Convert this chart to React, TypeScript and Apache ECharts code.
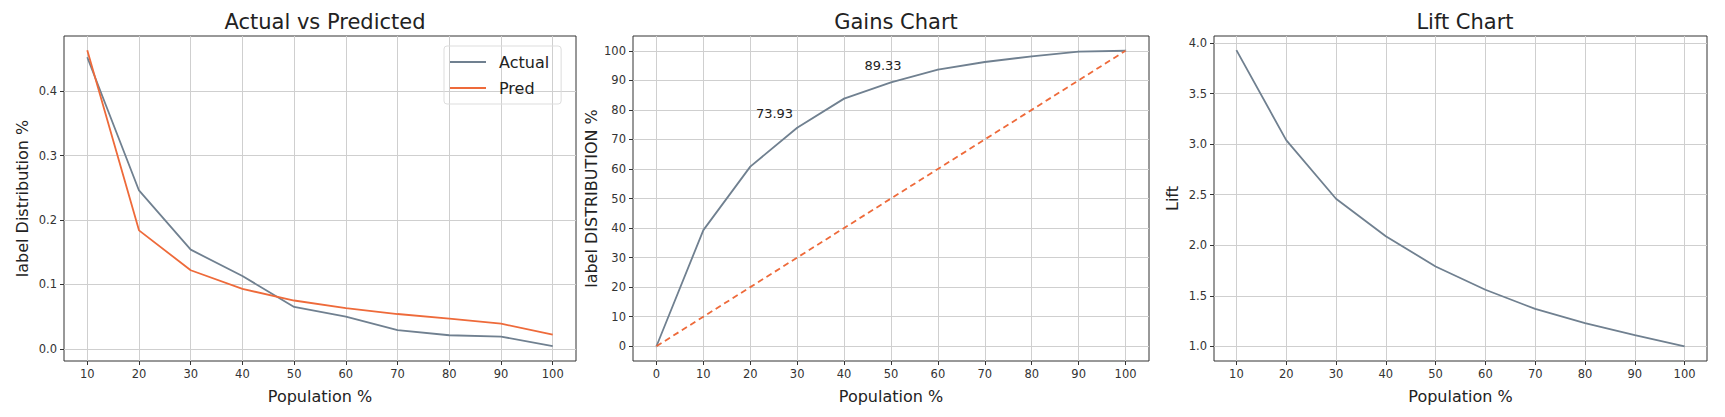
import React, { useEffect, useRef } from "react";
import * as echarts from "echarts";

const population = [10, 20, 30, 40, 50, 60, 70, 80, 90, 100];
const actual = [0.453, 0.246, 0.154, 0.113, 0.065, 0.05, 0.029, 0.021, 0.019, 0.004];
const pred = [0.464, 0.184, 0.122, 0.093, 0.075, 0.063, 0.054, 0.047, 0.039, 0.022];
const gainsX = [0, 10, 20, 30, 40, 50, 60, 70, 80, 90, 100];
const gains = [0, 39.3, 60.8, 73.93, 83.8, 89.33, 93.6, 96.2, 98.1, 99.7, 100];
const baseline = [0, 10, 20, 30, 40, 50, 60, 70, 80, 90, 100];
const lift = [3.93, 3.04, 2.46, 2.09, 1.79, 1.56, 1.37, 1.23, 1.11, 1.0];
const ticks1 = [0, 0.1, 0.2, 0.3, 0.4];
const ticks2 = [0, 10, 20, 30, 40, 50, 60, 70, 80, 90, 100];
const ticks3 = [1.0, 1.5, 2.0, 2.5, 3.0, 3.5, 4.0];

const FONT = "DejaVu Sans";
const GRAY = "#708090";
const ORANGE = "#ee6a3a";

const grids = [
  { left: 56, width: 512 },
  { left: 625, width: 516 },
  { left: 1206, width: 493 },
];

const xAxisBase = (i: number, min: number, max: number, vals: number[]) => ({
  type: "value",
  gridIndex: i,
  min,
  max,
  name: "Population %",
  nameLocation: "middle",
  nameGap: 27,
  nameTextStyle: { fontFamily: FONT, fontSize: 16, color: "#222" },
  axisLine: { show: false, onZero: false },
  axisTick: { show: true, customValues: vals, length: 4, lineStyle: { color: "#333" } },
  axisLabel: { customValues: vals, fontFamily: FONT, fontSize: 11.5, color: "#333", margin: 7 },
  splitLine: { show: true, lineStyle: { color: "#cfcfcf", width: 1 } },
});

const yAxisBase = (i: number, min: number, max: number, vals: number[], name: string, gap: number, fmt: (v: number) => string) => ({
  type: "value",
  gridIndex: i,
  min,
  max,
  name,
  nameLocation: "middle",
  nameGap: gap,
  nameTextStyle: { fontFamily: FONT, fontSize: 16, color: "#222" },
  axisLine: { show: false, onZero: false },
  axisTick: { show: true, customValues: vals, length: 4, lineStyle: { color: "#333" } },
  axisLabel: { customValues: vals, formatter: fmt, fontFamily: FONT, fontSize: 11.5, color: "#333", margin: 7 },
  splitLine: { show: true, lineStyle: { color: "#cfcfcf", width: 1 } },
});

const App: React.FC = () => {
  const ref = useRef<HTMLDivElement>(null);

  useEffect(() => {
    if (!ref.current) return;
    const chart = echarts.init(ref.current, null, { renderer: "svg" });
    const option = {
      animation: false,
      backgroundColor: "#fff",
      title: [
        { text: "Actual vs Predicted", left: 312, top: -2 },
        { text: "Gains Chart", left: 883, top: -2 },
        { text: "Lift Chart", left: 1452, top: -2 },
      ].map((t) => ({
        ...t,
        textAlign: "center",
        textStyle: { fontFamily: FONT, fontSize: 21, fontWeight: "normal", color: "#222" },
      })),
      legend: {
        data: ["Actual", "Pred"],
        orient: "vertical",
        left: 436,
        top: 38,
        padding: [8, 12, 8, 6],
        itemGap: 10,
        itemWidth: 36,
        itemHeight: 2,
        icon: "rect",
        borderColor: "#ddd",
        borderWidth: 1,
        borderRadius: 3,
        textStyle: { fontFamily: FONT, fontSize: 16, color: "#222", padding: [0, 0, 0, 8] },
      },
      grid: grids.map((g) => ({
        ...g,
        top: 28,
        height: 341,
        show: true,
        borderColor: "#333",
        borderWidth: 1,
      })),
      xAxis: [
        xAxisBase(0, 5.5, 104.5, population),
        xAxisBase(1, -5, 105, ticks2),
        xAxisBase(2, 5.5, 104.5, population),
      ],
      yAxis: [
        yAxisBase(0, -0.019, 0.486, ticks1, "label Distribution %", 34, (v) => v.toFixed(1)),
        yAxisBase(1, -5, 105, ticks2, "label DISTRIBUTION %", 34, (v) => String(v)),
        yAxisBase(2, 0.855, 4.07, ticks3, "Lift", 34, (v) => v.toFixed(1)),
      ],
      series: [
        {
          name: "Actual",
          type: "line",
          xAxisIndex: 0,
          yAxisIndex: 0,
          data: population.map((x, i) => [x, actual[i]]),
          showSymbol: false,
          lineStyle: { color: GRAY, width: 1.8 },
          itemStyle: { color: GRAY },
        },
        {
          name: "Pred",
          type: "line",
          xAxisIndex: 0,
          yAxisIndex: 0,
          data: population.map((x, i) => [x, pred[i]]),
          showSymbol: false,
          lineStyle: { color: ORANGE, width: 1.8 },
          itemStyle: { color: ORANGE },
        },
        {
          name: "Gains",
          type: "line",
          xAxisIndex: 1,
          yAxisIndex: 1,
          data: gainsX.map((x, i) => {
            const item: any = { value: [x, gains[i]] };
            if (x === 30) {
              item.label = { show: true, position: "left", offset: [2, -14], formatter: "73.93" };
            }
            if (x === 50) {
              item.label = { show: true, position: "top", offset: [-8, -4], formatter: "89.33" };
            }
            return item;
          }),
          showSymbol: true,
          symbolSize: 0.1,
          itemStyle: { color: GRAY },
          label: { show: false, fontFamily: FONT, fontSize: 13, color: "#222" },
          lineStyle: { color: GRAY, width: 1.8 },
          z: 3,
        },
        {
          name: "Random",
          type: "line",
          xAxisIndex: 1,
          yAxisIndex: 1,
          data: gainsX.map((x, i) => [x, baseline[i]]),
          showSymbol: false,
          lineStyle: { color: ORANGE, width: 1.8, type: [6, 4] },
        },
        {
          name: "Lift",
          type: "line",
          xAxisIndex: 2,
          yAxisIndex: 2,
          data: population.map((x, i) => [x, lift[i]]),
          showSymbol: false,
          lineStyle: { color: GRAY, width: 1.8 },
        },
      ],
    };
    chart.setOption(option);
    return () => chart.dispose();
  }, []);

  return <div ref={ref} style={{ width: 1709, height: 401 }} />;
};

export default App;
